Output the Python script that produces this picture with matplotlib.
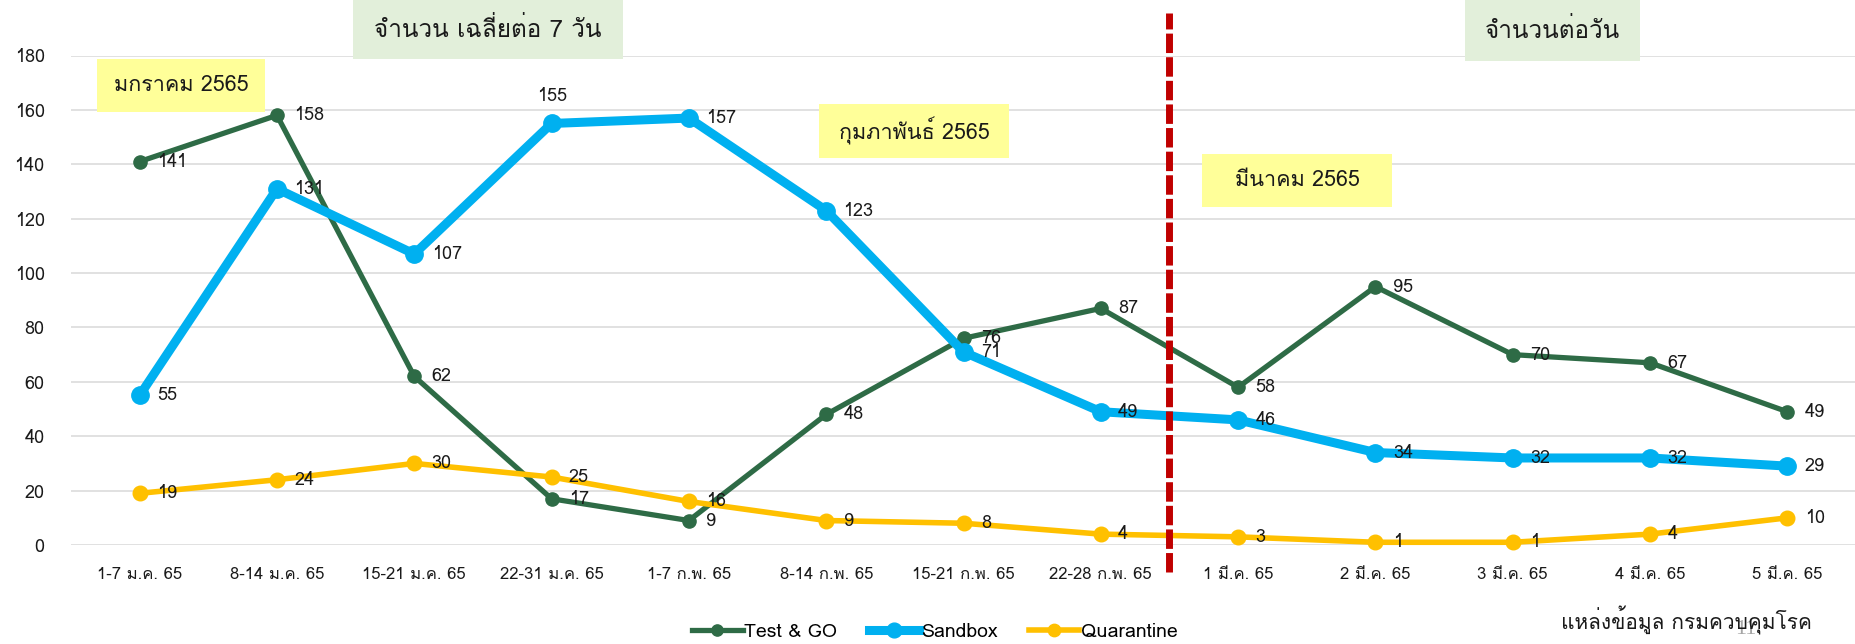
import matplotlib
matplotlib.use("Agg")
import matplotlib.pyplot as plt
from matplotlib import font_manager as fm
from matplotlib.ft2font import FT2Font
from matplotlib.patches import Rectangle
from matplotlib.lines import Line2D

# ---------------- data ----------------
categories = ["1-7 ม.ค. 65", "8-14 ม.ค. 65", "15-21 ม.ค. 65", "22-31 ม.ค. 65",
              "1-7 ก.พ. 65", "8-14 ก.พ. 65", "15-21 ก.พ. 65", "22-28 ก.พ. 65",
              "1 มี.ค. 65", "2 มี.ค. 65", "3 มี.ค. 65", "4 มี.ค. 65", "5 มี.ค. 65"]
test_go = [141, 158, 62, 17, 9, 48, 76, 87, 58, 95, 70, 67, 49]
sandbox = [55, 131, 107, 155, 157, 123, 71, 49, 46, 34, 32, 32, 29]
quarantine = [19, 24, 30, 25, 16, 9, 8, 4, 3, 1, 1, 4, 10]
series_names = ["Test & GO", "Sandbox", "Quarantine"]
y_ticks = [0, 20, 40, 60, 80, 100, 120, 140, 160, 180]
divider_at = 7.5

# ---------------- fonts (find one with Thai glyphs) ----------------
thai_fonts = []
for f in fm.fontManager.ttflist:
    try:
        cm = FT2Font(f.fname).get_charmap()
    except Exception:
        continue
    if 0x0E08 in cm and 0x0E33 in cm and 0x0E21 in cm:
        if f.name not in thai_fonts:
            thai_fonts.append(f.name)
pref = ["Tahoma", "Leelawadee UI", "Leelawadee", "Loma", "Noto Sans Thai", "Noto Sans Thai UI",
        "Garuda", "Tlwg Typo", "Kinnari", "Sarabun", "Norasi"]
thai = None
for p in pref:
    if p in thai_fonts:
        thai = p
        break
if thai is None and thai_fonts:
    thai = thai_fonts[0]
fams = ([thai] if thai else []) + ["DejaVu Sans"]
plt.rcParams["font.family"] = fams

W, H = 1856, 644
fig = plt.figure(figsize=(W / 100, H / 100), dpi=100)
fig.patch.set_facecolor("white")

def fx(px):
    return px / W

def fy(py):
    return 1 - py / H

ax_left, ax_right = 71, 1856
ax_top, ax_bottom = 55.5, 545
ax = fig.add_axes([fx(ax_left), fy(ax_bottom), fx(ax_right - ax_left), (ax_bottom - ax_top) / H])

x = list(range(len(categories)))
colors = ["#2E6B46", "#00B0F0", "#FFC000"]
lws = [3.8, 6.5, 4.0]
mss = [9.5, 12.5, 10.5]
data = [test_go, sandbox, quarantine]
TXT = "#1a1a1a"

for vals, c, lw, ms, name in zip(data, colors, lws, mss, series_names):
    ax.plot(x, vals, color=c, lw=lw, marker="o", ms=ms, mfc=c, mec=c,
            solid_joinstyle="round", clip_on=False, zorder=3, label=name)

# data labels (right of point; "above" for Sandbox 155)
for si, vals in enumerate(data):
    for i, v in enumerate(vals):
        if si == 1 and v == 155:
            ax.annotate(str(v), (i, v), xytext=(0, 13), textcoords="offset points",
                        ha="center", va="bottom", fontsize=13, color=TXT, zorder=5)
        else:
            ax.annotate(str(v), (i, v), xytext=(12.5, 0), textcoords="offset points",
                        ha="left", va="center", fontsize=13, color=TXT, zorder=5)

ax.set_xlim(-0.5, len(categories) - 0.5)
ax.set_ylim(0, 180)
ax.set_yticks(y_ticks)
ax.set_yticklabels([str(t) for t in y_ticks])
ax.set_xticks(x)
ax.set_xticklabels(categories)
ax.tick_params(axis="y", length=0, pad=19, labelsize=13, labelcolor=TXT)
ax.tick_params(axis="x", length=0, pad=16, labelsize=12, labelcolor=TXT)
ax.grid(axis="y", color="#D9D9D9", lw=1.1, zorder=0)
ax.set_axisbelow(True)
for s in ax.spines.values():
    s.set_visible(False)

# divider dashed red line
y_hi = (ax_bottom - 13) / (ax_bottom - ax_top)
y_lo = (ax_bottom - 572) / (ax_bottom - ax_top)
ln = ax.axvline(divider_at, ymin=y_lo, ymax=y_hi, color="#C00000", lw=5.0,
                clip_on=False, zorder=4, solid_capstyle="butt", dash_capstyle="butt")
ln.set_dashes((2.8, 0.6))

# annotation boxes
boxes = [
    (353, 0, 623, 59, "#E2EFDA", "จำนวน เฉลี่ยต่อ 7 วัน", 17.5),
    (97, 59, 265, 112, "#FFFF99", "มกราคม 2565", 15.5),
    (819, 104, 1009, 158, "#FFFF99", "กุมภาพันธ์ 2565", 15.5),
    (1202, 154, 1392, 207, "#FFFF99", "มีนาคม 2565", 15.5),
    (1465, 0, 1640, 61, "#E2EFDA", "จำนวนต่อวัน", 17.5),
]
for x0, y0, x1, y1, col, txt, fs in boxes:
    fig.add_artist(Rectangle((fx(x0), fy(y1)), fx(x1 - x0), (y1 - y0) / H,
                             transform=fig.transFigure, facecolor=col, edgecolor="none", zorder=6))
    fig.text(fx((x0 + x1) / 2), fy((y0 + y1) / 2), txt, ha="center", va="center",
             fontsize=fs, color=TXT, zorder=7)

# legend
handles = [Line2D([], [], color=c, lw=lw, marker="o", ms=ms * 0.85, mfc=c, mec=c)
           for c, lw, ms in zip(colors, lws, mss)]
fig.legend(handles, series_names, loc="center", bbox_to_anchor=(fx(935), fy(632)),
           ncol=3, frameon=False, fontsize=14, handlelength=2.6, handletextpad=0.1,
           columnspacing=1.6)

# source note + slide number
fig.text(fx(1686), fy(620), "แหล่งข้อมูล กรมควบคุมโรค", ha="center", va="center",
         fontsize=15, color=TXT)
fig.text(fx(1746), fy(630), "11", ha="center", va="center", fontsize=16,
         color="#A6A6A6", family="Liberation Serif", zorder=1)

fig.savefig("out.png", dpi=100, facecolor="white")
